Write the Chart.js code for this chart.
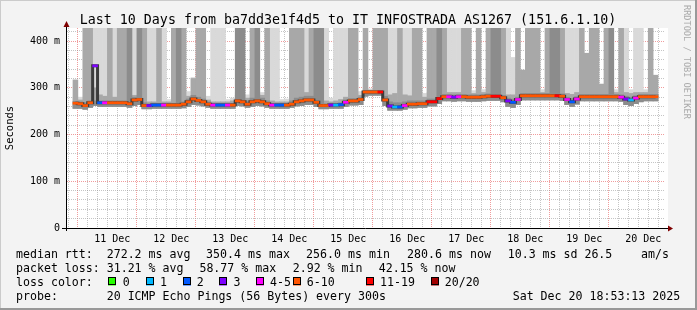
<!DOCTYPE html>
<html lang="en">
<head>
<meta charset="UTF-8">
<title>Last 10 Days - ba7dd3e1f4d5 to IT INFOSTRADA AS1267</title>
<script src="https://cdn.jsdelivr.net/npm/chart.js@4.4.0/dist/chart.umd.min.js"></script>
<style>
  html, body { margin: 0; padding: 0; background: #f3f3f3; }
  #chart { display: block; }
</style>
</head>
<body>
<canvas id="chart" width="697" height="310"></canvas>
<script>
// one column every 2 hours, hours counted from Dec 10 00:00
const firstHour = 21;
const stepHours = 2;
const dayLabels = ['11 Dec', '12 Dec', '13 Dec', '14 Dec', '15 Dec', '16 Dec', '17 Dec', '18 Dec', '19 Dec', '20 Dec'];

// median rtt (ms)
const median = [
  267, 266, 262, 268, 347, 268, 268, 268, 268, 268,
  268, 266, 274, 275, 262, 262, 263, 263, 263, 263,
  263, 263, 265, 270, 276, 273, 270, 265, 263, 263,
  263, 263, 263, 272, 270, 265, 270, 272, 270, 266,
  263, 263, 263, 263, 265, 270, 272, 274, 274, 269,
  262, 262, 263, 263, 264, 269, 272, 272, 275, 291,
  291, 291, 291, 274, 261, 259, 259, 262, 265, 265,
  266, 266, 270, 270, 277, 281, 281, 280, 281, 281,
  280, 280, 280, 281, 282, 282, 282, 279, 272, 269,
  275, 283, 283, 283, 283, 283, 283, 283, 283, 282,
  275, 270, 276, 281, 281, 281, 281, 281, 281, 281,
  281, 280, 276, 274, 278, 281, 281, 281, 281
];

// lost pings out of 20
const loss = [
  8, 8, 8, 8, 3, 2, 5, 8, 8, 8,
  8, 8, 8, 8, 8, 3, 2, 2, 5, 8,
  8, 8, 8, 8, 8, 8, 8, 8, 5, 2,
  2, 5, 8, 8, 8, 8, 8, 8, 8, 8,
  5, 2, 2, 8, 8, 8, 8, 8, 8, 8,
  8, 8, 3, 1, 2, 5, 8, 8, 8, 8,
  8, 8, 12, 8, 3, 1, 2, 5, 8, 8,
  8, 8, 12, 12, 12, 8, 5, 3, 5, 8,
  8, 8, 8, 8, 8, 12, 12, 8, 3, 2,
  5, 8, 8, 8, 8, 8, 8, 8, 12, 8,
  5, 2, 5, 8, 8, 8, 8, 8, 8, 8,
  8, 5, 3, 1, 5, 8, 8, 8, 8
];

// smoke: bottom and the tops of the light / medium / dark bands (ms)
const smokeLow = [
  256, 256, 254, 258, 262, 260, 260, 260, 260, 260,
  260, 258, 262, 264, 255, 255, 256, 256, 256, 256,
  256, 256, 257, 260, 264, 263, 261, 258, 256, 256,
  256, 256, 256, 262, 261, 258, 260, 262, 261, 258,
  256, 256, 256, 256, 258, 261, 262, 264, 264, 260,
  255, 255, 256, 256, 256, 260, 263, 263, 264, 282,
  284, 284, 284, 262, 252, 252, 252, 254, 257, 257,
  258, 258, 261, 261, 266, 272, 272, 271, 272, 272,
  271, 271, 271, 272, 273, 273, 273, 270, 260, 258,
  264, 274, 274, 274, 274, 274, 274, 274, 274, 273,
  264, 260, 265, 272, 272, 272, 272, 272, 272, 272,
  272, 271, 264, 262, 266, 270, 272, 272, 272
];
const lightTop = [
  280, 280, 278, 282, 428, 428, 428, 290, 428, 288,
  285, 282, 428, 290, 280, 428, 428, 275, 428, 275,
  276, 278, 280, 292, 322, 300, 292, 282, 428, 428,
  428, 275, 278, 290, 290, 285, 292, 292, 290, 286,
  428, 428, 275, 276, 285, 292, 294, 428, 296, 290,
  280, 428, 278, 428, 428, 428, 288, 288, 292, 298,
  298, 298, 298, 300, 428, 428, 300, 428, 428, 290,
  290, 288, 290, 290, 292, 296, 428, 428, 428, 296,
  296, 294, 296, 296, 296, 296, 296, 294, 428, 365,
  298, 300, 298, 298, 298, 296, 298, 300, 300, 298,
  428, 428, 428, 300, 300, 300, 300, 300, 298, 298,
  296, 296, 428, 296, 428, 428, 296, 296, 300
];
const midTop = [
  317, 274, 428, 428, 300, 285, 282, 428, 280, 428,
  428, 276, 284, 284, 428, 270, 270, 428, 270, 270,
  428, 270, 428, 282, 320, 428, 428, 274, 270, 270,
  270, 270, 272, 284, 284, 278, 428, 286, 284, 428,
  272, 270, 270, 270, 428, 428, 428, 290, 428, 284,
  272, 272, 270, 272, 275, 280, 428, 428, 284, 428,
  295, 428, 428, 428, 285, 288, 428, 285, 283, 428,
  428, 280, 428, 428, 286, 428, 290, 290, 290, 428,
  428, 288, 428, 290, 428, 290, 290, 428, 285, 285,
  428, 338, 428, 428, 428, 290, 428, 292, 292, 428,
  288, 286, 290, 428, 374, 428, 428, 308, 428, 290,
  290, 428, 290, 288, 290, 290, 290, 428, 327
];
const darkTop = [
  271, 270, 268, 272, 272, 272, 272, 272, 272, 272,
  272, 428, 280, 428, 268, 266, 267, 267, 267, 267,
  267, 428, 270, 276, 284, 280, 276, 270, 267, 267,
  267, 267, 267, 428, 428, 272, 278, 428, 278, 272,
  267, 267, 267, 267, 272, 278, 280, 282, 282, 428,
  428, 266, 267, 267, 268, 274, 277, 277, 280, 294,
  294, 294, 294, 282, 270, 268, 268, 270, 272, 272,
  272, 272, 276, 276, 428, 286, 286, 285, 286, 286,
  285, 285, 285, 286, 287, 428, 428, 284, 278, 276,
  280, 288, 288, 288, 288, 288, 288, 428, 428, 287,
  280, 277, 281, 286, 286, 286, 286, 286, 286, 428,
  286, 285, 282, 280, 283, 286, 286, 286, 286
];

const lossLabels = ['0', '1', '2', '3', '4-5', '6-10', '11-19', '20/20'];
const lossColors = ['#26ff00', '#00b8ff', '#0059ff', '#7e00ff', '#ff00ff', '#ff5500', '#ff0000', '#a10000'];

function colorForLoss(l) {
  if (l <= 3) return lossColors[l];
  if (l <= 5) return lossColors[4];
  if (l <= 10) return lossColors[5];
  if (l <= 19) return lossColors[6];
  return lossColors[7];
}

const hours = median.map((_, i) => firstHour + i * stepHours);
const band = (lo, hi) => hours.map((h, i) => ({ x: h, y: [lo[i], hi[i]] }));

const MONO = 'DejaVu Sans Mono';
const minorGrid = 'rgba(150,150,150,0.55)';
const majorGrid = 'rgba(230,90,90,0.6)';

const smokeBar = { type: 'bar', grouped: false, barPercentage: 1, categoryPercentage: 1, borderWidth: 0 };

// background, axes, arrows and the text around the plot
const decor = {
  id: 'decor',
  beforeDraw(chart) {
    const c = chart.ctx, a = chart.chartArea;
    c.save();
    c.fillStyle = '#f3f3f3';
    c.fillRect(0, 0, chart.width, chart.height);
    c.fillStyle = '#ffffff';
    c.fillRect(a.left, a.top, a.right - a.left + 3, a.bottom - a.top);
    c.restore();
  },
  afterDraw(chart) {
    const c = chart.ctx, a = chart.chartArea;
    c.save();

    // axes
    c.strokeStyle = '#000';
    c.lineWidth = 1;
    c.beginPath();
    c.moveTo(a.left - 0.5, a.bottom + 3);
    c.lineTo(a.left - 0.5, a.top - 4);
    c.moveTo(a.left - 5, a.bottom + 0.5);
    c.lineTo(a.right + 4, a.bottom + 0.5);
    c.stroke();
    c.fillStyle = '#7f0000';
    c.beginPath();
    c.moveTo(a.left - 0.5, a.top - 7);
    c.lineTo(a.left - 3.5, a.top - 1);
    c.lineTo(a.left + 2.5, a.top - 1);
    c.closePath();
    c.fill();
    c.beginPath();
    c.moveTo(a.right + 8, a.bottom + 0.5);
    c.lineTo(a.right + 3, a.bottom - 2.5);
    c.lineTo(a.right + 3, a.bottom + 3.5);
    c.closePath();
    c.fill();

    // title
    c.fillStyle = '#000';
    c.font = '13.3px "' + MONO + '"';
    c.textAlign = 'center';
    c.textBaseline = 'alphabetic';
    c.fillText('Last 10 Days from ba7dd3e1f4d5 to IT INFOSTRADA AS1267 (151.6.1.10)', 348, 24);

    // y axis title
    c.save();
    c.translate(10, 128);
    c.rotate(-Math.PI / 2);
    c.font = '10.5px "' + MONO + '"';
    c.textBaseline = 'middle';
    c.fillText('Seconds', 0, 0);
    c.restore();

    // rrdtool credit
    c.save();
    c.translate(686.5, 5);
    c.rotate(Math.PI / 2);
    c.font = '8.6px "' + MONO + '"';
    c.fillStyle = '#aaaaaa';
    c.textAlign = 'left';
    c.textBaseline = 'middle';
    c.fillText('RRDTOOL / TOBI OETIKER', 0, 0);
    c.restore();

    // legend lines
    c.font = '11.6px "' + MONO + '"';
    c.textAlign = 'left';
    c.textBaseline = 'alphabetic';
    const put = (txt, x, y) => c.fillText(txt, x - 0.6, y);
    put('median rtt:', 16.6, 257.5);
    put('272.2 ms avg', 107.3, 257.5);
    put('350.4 ms max', 206.7, 257.5);
    put('256.0 ms min', 306.7, 257.5);
    put('280.6 ms now', 407.7, 257.5);
    put('10.3 ms sd', 508.3, 257.5);
    put('26.5', 585, 257.5);
    put('am/s', 641.7, 257.5);

    put('packet loss:', 16.6, 271.8);
    put('31.21 % avg', 107.3, 271.8);
    put('58.77 % max', 200, 271.8);
    put('2.92 % min', 293.3, 271.8);
    put('42.15 % now', 379.3, 271.8);

    put('loss color:', 16.6, 286);
    const boxX = [108.3, 145.7, 182.7, 219.3, 256, 292.7, 366, 430.7];
    const labX = [123.3, 160.7, 197.3, 234, 270.7, 307.3, 380.7, 445.3];
    lossLabels.forEach((lab, i) => {
      c.fillStyle = lossColors[i];
      c.fillRect(Math.round(boxX[i]), 277.5, 8, 8);
      c.strokeStyle = '#000';
      c.strokeRect(Math.round(boxX[i]) + 0.5, 277.5, 7, 7);
      c.fillStyle = '#000';
      put(lab, labX[i], 286);
    });

    put('probe:', 16.6, 300.2);
    put('20 ICMP Echo Pings (56 Bytes) every 300s', 107.3, 300.2);
    put('Sat Dec 20 18:53:13 2025', 513.3, 300.2);

    // 3d frame
    c.fillStyle = '#cbcbcb';
    c.fillRect(0, 0, chart.width, 1);
    c.fillRect(0, 0, 1, chart.height);
    c.fillStyle = '#999999';
    c.fillRect(0, chart.height - 2, chart.width, 2);
    c.fillRect(chart.width - 2, 0, 2, chart.height);
    c.restore();
  }
};

new Chart(document.getElementById('chart'), {
  type: 'bar',
  data: {
    datasets: [
      Object.assign({ label: 'smoke light', data: band(smokeLow, lightTop), backgroundColor: '#d9d9d9', order: 6 }, smokeBar),
      Object.assign({ label: 'smoke medium', data: band(smokeLow, midTop), backgroundColor: '#a8a8a8', order: 5 }, smokeBar),
      Object.assign({ label: 'smoke dark', data: band(smokeLow, darkTop), backgroundColor: '#8c8c8c', order: 4 }, smokeBar),
      {
        type: 'line',
        label: 'median outline',
        data: hours.map((h, i) => ({ x: h, y: median[i] })),
        stepped: 'middle',
        borderColor: '#3c3c3c',
        borderWidth: 3,
        pointRadius: 0,
        order: 2
      },
      Object.assign({
        label: 'median rtt',
        data: hours.map((h, i) => ({ x: h, y: [median[i] - 2.2, median[i] + 2.2] })),
        backgroundColor: loss.map(colorForLoss),
        order: 1
      }, smokeBar)
    ]
  },
  options: {
    responsive: false,
    animation: false,
    devicePixelRatio: 1,
    layout: { padding: { top: 28, right: 32, left: 0, bottom: 0 } },
    plugins: { legend: { display: false }, title: { display: false }, tooltip: { enabled: false } },
    scales: {
      x: {
        type: 'linear',
        min: 19.6,
        max: 258.8,
        z: 1,
        afterFit: s => { s.height = 82; },
        afterBuildTicks: s => {
          const t = [];
          for (let v = 20; v <= 256; v += 4) t.push({ value: v });
          s.ticks = t;
        },
        ticks: {
          autoSkip: false,
          maxRotation: 0,
          padding: 5,
          color: '#000',
          font: { family: MONO, size: 10 },
          callback: v => (v % 24 === 12 ? dayLabels[(v - 36) / 24] : '')
        },
        grid: {
          drawTicks: false,
          color: ctx => (ctx.tick && ctx.tick.value % 24 === 0 ? majorGrid : minorGrid)
        },
        border: { display: false, dash: [1, 1] }
      },
      y: {
        min: 0,
        max: 428,
        z: 1,
        afterFit: s => { s.width = 67; },
        afterBuildTicks: s => {
          const t = [];
          for (let v = 0; v <= 420; v += 20) t.push({ value: v });
          s.ticks = t;
        },
        ticks: {
          autoSkip: false,
          padding: 7,
          color: '#000',
          font: { family: MONO, size: 10 },
          callback: v => (v % 100 === 0 ? (v === 0 ? '0' : v + ' m') : '')
        },
        grid: {
          drawTicks: false,
          color: ctx => {
            if (!ctx.tick || ctx.tick.value === 0) return 'rgba(0,0,0,0)';
            return ctx.tick.value % 100 === 0 ? majorGrid : minorGrid;
          }
        },
        border: { display: false, dash: [1, 1] }
      }
    }
  },
  plugins: [decor]
});
</script>
</body>
</html>
